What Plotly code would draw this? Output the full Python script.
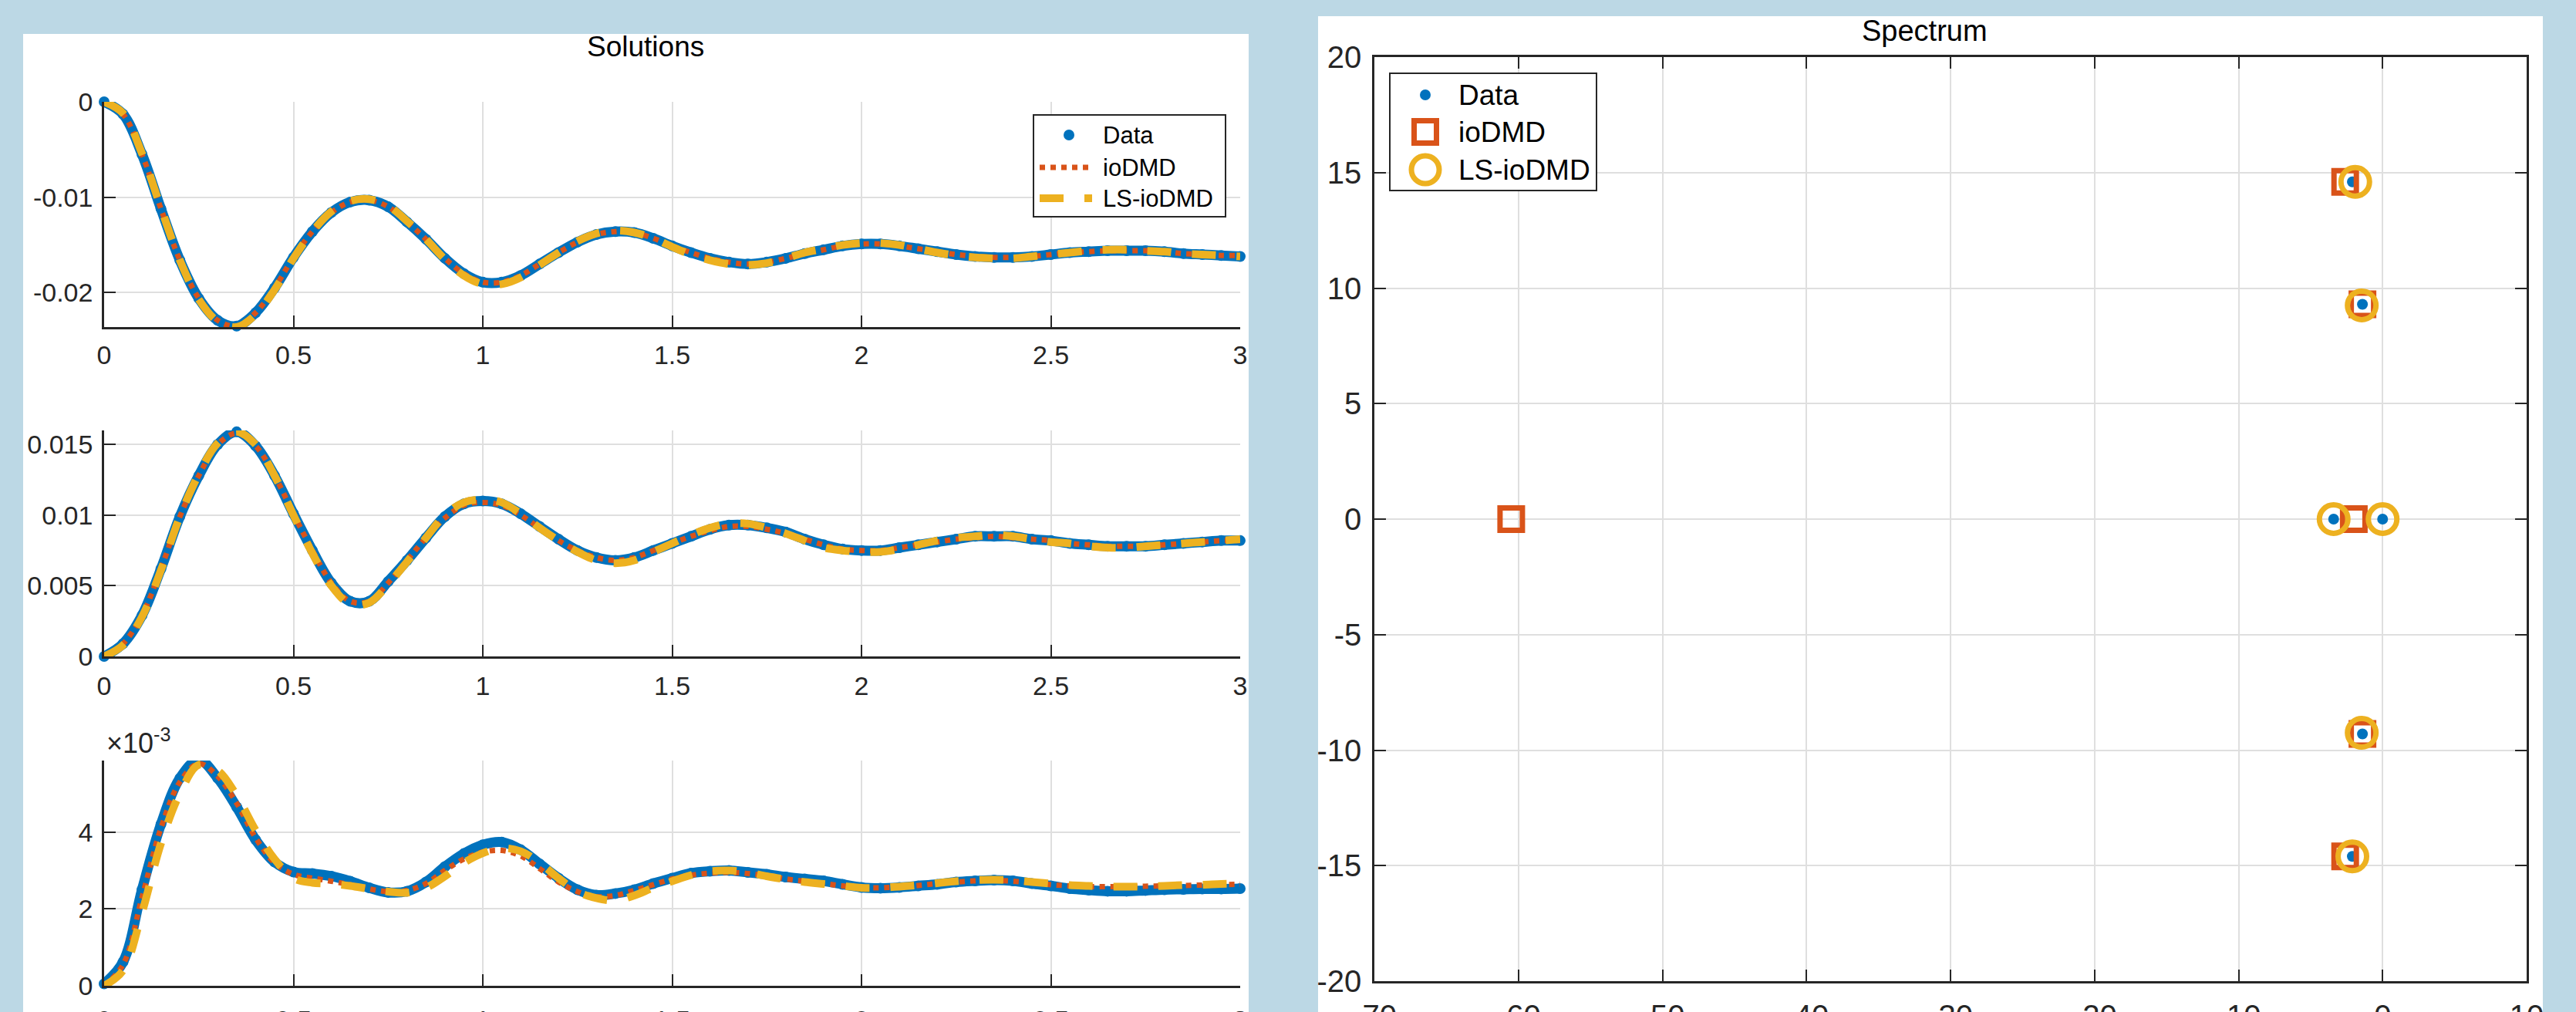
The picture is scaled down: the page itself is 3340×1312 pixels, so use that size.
import plotly.graph_objects as go

W, H = 3340, 1312
def px(x): return x / W
def py(y): return 1 - y / H

BLUE = "#0072BD"
ORANGE = "#D95319"
YELLOW = "#EDB120"
AX = "#262626"
GRID = "#DFDFDF"
BG = "#BCD8E5"
FONT = "Liberation Sans, Arial, Helvetica, sans-serif"

# ---------------- data ----------------
t = [0.0, 0.05, 0.1, 0.15, 0.2, 0.25, 0.3, 0.35, 0.4, 0.45, 0.5, 0.55, 0.6, 0.65, 0.7,
     0.75, 0.8, 0.85, 0.9, 0.95, 1.0, 1.05, 1.1, 1.15, 1.2, 1.25, 1.3, 1.35, 1.4, 1.45,
     1.5, 1.55, 1.6, 1.65, 1.7, 1.75, 1.8, 1.85, 1.9, 1.95, 2.0, 2.05, 2.1, 2.15, 2.2,
     2.25, 2.3, 2.35, 2.4, 2.45, 2.5, 2.55, 2.6, 2.65, 2.7, 2.75, 2.8, 2.85, 2.9, 2.95, 3.0]

sol1_data = [0.0, -0.0013, -0.0055, -0.0112, -0.0166, -0.0206, -0.0229, -0.0235, -0.0221, -0.0195,
             -0.0163, -0.0136, -0.0116, -0.0105, -0.0103, -0.0110, -0.0126, -0.0144, -0.0164, -0.0180,
             -0.0189, -0.0189, -0.0182, -0.0170, -0.0158, -0.0147, -0.0139, -0.0136, -0.0137, -0.0143,
             -0.0151, -0.0158, -0.0164, -0.0168, -0.0170, -0.0168, -0.0164, -0.0159, -0.0155, -0.0151,
             -0.0149, -0.0149, -0.0151, -0.0154, -0.0157, -0.0160, -0.0162, -0.0163, -0.0163, -0.0162,
             -0.0160, -0.0158, -0.0157, -0.0156, -0.0156, -0.0156, -0.0157, -0.0159, -0.0160, -0.0161,
             -0.0162]
sol1_iodmd = [0.0, -0.0013, -0.0055, -0.0112, -0.0166, -0.0206, -0.0229, -0.0235, -0.0221, -0.0195,
              -0.0163, -0.0136, -0.0116, -0.0105, -0.0103, -0.0110, -0.0126, -0.0144, -0.0164, -0.0180,
              -0.0189, -0.0189, -0.0182, -0.0170, -0.0158, -0.0147, -0.0139, -0.0136, -0.0137, -0.0143,
              -0.0151, -0.0158, -0.0164, -0.0168, -0.0170, -0.0168, -0.0164, -0.0159, -0.0155, -0.0151,
              -0.0149, -0.0149, -0.0151, -0.0154, -0.0157, -0.0160, -0.0162, -0.0163, -0.0163, -0.0162,
              -0.0160, -0.0158, -0.0157, -0.0156, -0.0156, -0.0156, -0.0157, -0.0159, -0.0160, -0.0161,
              -0.0161]
sol1_ls = [0.0, -0.0012, -0.0054, -0.0111, -0.0166, -0.0207, -0.0230, -0.0236, -0.0223, -0.0197,
           -0.0164, -0.0136, -0.0115, -0.0104, -0.0102, -0.0109, -0.0125, -0.0144, -0.0165, -0.0182,
           -0.0191, -0.0191, -0.0184, -0.0171, -0.0158, -0.0146, -0.0138, -0.0135, -0.0137, -0.0143,
           -0.0152, -0.0160, -0.0166, -0.0170, -0.0171, -0.0169, -0.0164, -0.0158, -0.0154, -0.0150,
           -0.0148, -0.0148, -0.0150, -0.0154, -0.0158, -0.0161, -0.0163, -0.0164, -0.0164, -0.0162,
           -0.0160, -0.0158, -0.0156, -0.0155, -0.0155, -0.0156, -0.0157, -0.0159, -0.0160, -0.0161,
           -0.0162]

sol2_data = [0.0, 0.0009, 0.0029, 0.0062, 0.0099, 0.0128, 0.0150, 0.0159, 0.0149, 0.0128,
             0.0101, 0.0075, 0.0052, 0.0039, 0.0039, 0.0053, 0.0068, 0.0084, 0.0099, 0.0108,
             0.0110, 0.0108, 0.0101, 0.0092, 0.0083, 0.0075, 0.0070, 0.0068, 0.0070, 0.0075,
             0.0080, 0.0085, 0.0090, 0.0093, 0.0093, 0.0091, 0.0088, 0.0083, 0.0079, 0.0076,
             0.0075, 0.0075, 0.0077, 0.0079, 0.0081, 0.0083, 0.0085, 0.0085, 0.0085, 0.0083,
             0.0082, 0.0080, 0.0079, 0.0078, 0.0078, 0.0078, 0.0079, 0.0080, 0.0081, 0.0082,
             0.0082]
sol2_iodmd = [0.0, 0.0009, 0.0029, 0.0062, 0.0099, 0.0128, 0.0150, 0.0158, 0.0149, 0.0128,
              0.0101, 0.0075, 0.0052, 0.0039, 0.0039, 0.0052, 0.0068, 0.0084, 0.0098, 0.0107,
              0.0109, 0.0107, 0.0100, 0.0091, 0.0082, 0.0075, 0.0070, 0.0068, 0.0070, 0.0075,
              0.0080, 0.0085, 0.0089, 0.0092, 0.0092, 0.0090, 0.0087, 0.0083, 0.0079, 0.0076,
              0.0075, 0.0075, 0.0077, 0.0079, 0.0081, 0.0083, 0.0084, 0.0085, 0.0084, 0.0083,
              0.0082, 0.0080, 0.0079, 0.0078, 0.0078, 0.0078, 0.0079, 0.0080, 0.0081, 0.0082,
              0.0082]
sol2_ls = [0.0, 0.0008, 0.0028, 0.0061, 0.0099, 0.0129, 0.0151, 0.0159, 0.0150, 0.0128,
           0.0100, 0.0073, 0.0050, 0.0037, 0.0038, 0.0051, 0.0067, 0.0084, 0.0100, 0.0109,
           0.0111, 0.0109, 0.0101, 0.0091, 0.0082, 0.0074, 0.0068, 0.0066, 0.0068, 0.0074,
           0.0080, 0.0086, 0.0091, 0.0094, 0.0094, 0.0091, 0.0087, 0.0082, 0.0077, 0.0075,
           0.0074, 0.0074, 0.0076, 0.0079, 0.0082, 0.0084, 0.0085, 0.0086, 0.0085, 0.0083,
           0.0081, 0.0080, 0.0078, 0.0077, 0.0077, 0.0078, 0.0079, 0.0080, 0.0081, 0.0082,
           0.0083]

# third output, in units of 1e-3
sol3_data = [0.05, 0.62, 2.50, 4.20, 5.40, 5.88, 5.40, 4.65, 3.80, 3.22,
             2.96, 2.92, 2.85, 2.72, 2.55, 2.43, 2.46, 2.70, 3.10, 3.44,
             3.67, 3.74, 3.54, 3.17, 2.80, 2.50, 2.36, 2.40, 2.50, 2.66,
             2.80, 2.93, 2.98, 3.00, 2.95, 2.90, 2.83, 2.78, 2.73, 2.64,
             2.56, 2.54, 2.56, 2.60, 2.64, 2.70, 2.73, 2.75, 2.73, 2.66,
             2.60, 2.53, 2.49, 2.46, 2.46, 2.48, 2.50, 2.51, 2.52, 2.52,
             2.53]
sol3_iodmd = [0.0, 0.55, 2.30, 4.10, 5.30, 5.78, 5.45, 4.75, 3.85, 3.20,
              2.90, 2.80, 2.72, 2.63, 2.52, 2.45, 2.48, 2.66, 3.00, 3.30,
              3.48, 3.52, 3.38, 3.05, 2.70, 2.45, 2.32, 2.35, 2.48, 2.63,
              2.78, 2.88, 2.93, 2.95, 2.92, 2.86, 2.78, 2.72, 2.66, 2.60,
              2.56, 2.55, 2.57, 2.61, 2.66, 2.70, 2.73, 2.74, 2.72, 2.68,
              2.63, 2.60, 2.58, 2.58, 2.58, 2.59, 2.60, 2.61, 2.62, 2.63,
              2.64]
sol3_ls = [0.0, 0.40, 1.90, 3.70, 5.00, 5.75, 5.60, 4.95, 4.05, 3.30,
           2.80, 2.68, 2.65, 2.60, 2.52, 2.45, 2.42, 2.55, 2.85, 3.20,
           3.45, 3.58, 3.50, 3.20, 2.80, 2.45, 2.28, 2.22, 2.35, 2.55,
           2.72, 2.88, 2.98, 3.00, 2.95, 2.85, 2.77, 2.70, 2.65, 2.60,
           2.55, 2.55, 2.58, 2.62, 2.67, 2.72, 2.75, 2.76, 2.74, 2.70,
           2.66, 2.62, 2.60, 2.58, 2.58, 2.58, 2.60, 2.62, 2.63, 2.65,
           2.66]

spec_data_re = [-2.1, -1.4, -3.4, 0.0, -1.4, -2.1]
spec_data_im = [14.6, 9.3, 0.0, 0.0, -9.3, -14.6]
spec_io_re = [-2.6, -1.4, -2.0, -60.5, -1.4, -2.6]
spec_io_im = [14.6, 9.3, 0.0, 0.0, -9.3, -14.6]
spec_ls_re = [-1.9, -1.45, -3.4, 0.0, -1.45, -2.1]
spec_ls_im = [14.6, 9.25, 0.0, 0.0, -9.25, -14.6]

t_ticks = [0, 0.5, 1, 1.5, 2, 2.5, 3]
t_ticktext = ["0", "0.5", "1", "1.5", "2", "2.5", "3"]
y1_ticks = [-0.02, -0.01, 0]
y1_ticktext = ["-0.02", "-0.01", "0"]
y2_ticks = [0, 0.005, 0.01, 0.015]
y2_ticktext = ["0", "0.005", "0.01", "0.015"]
y3_ticks = [0, 2, 4]
y3_ticktext = ["0", "2", "4"]
sx_ticks = [-70, -60, -50, -40, -30, -20, -10, 0, 10]
sx_ticktext = ["-70", "-60", "-50", "-40", "-30", "-20", "-10", "0", "10"]
sy_ticks = [-20, -15, -10, -5, 0, 5, 10, 15, 20]
sy_ticktext = ["-20", "-15", "-10", "-5", "0", "5", "10", "15", "20"]

# ---------------- figure ----------------
fig = go.Figure()

def add_solution(xa, ya, d, io, ls):
    fig.add_trace(go.Scatter(x=t, y=d, name="Data", mode="lines+markers",
                             line=dict(color=BLUE, width=13, shape="spline"),
                             marker=dict(size=14, color=BLUE),
                             xaxis=xa, yaxis=ya, cliponaxis=False, showlegend=False))
    fig.add_trace(go.Scatter(x=t, y=io, name="ioDMD", mode="lines",
                             line=dict(color=ORANGE, width=7, dash="dot", shape="spline"),
                             xaxis=xa, yaxis=ya, cliponaxis=False, showlegend=False))
    fig.add_trace(go.Scatter(x=t, y=ls, name="LS-ioDMD", mode="lines",
                             line=dict(color=YELLOW, width=10, dash="31px,27px", shape="spline"),
                             xaxis=xa, yaxis=ya, cliponaxis=False, showlegend=False))

add_solution("x", "y", sol1_data, sol1_iodmd, sol1_ls)
add_solution("x2", "y2", sol2_data, sol2_iodmd, sol2_ls)
add_solution("x3", "y3", sol3_data, sol3_iodmd, sol3_ls)

fig.add_trace(go.Scatter(x=spec_data_re, y=spec_data_im, name="Data", mode="markers",
                         marker=dict(size=14, color=BLUE), xaxis="x4", yaxis="y4",
                         cliponaxis=False, showlegend=False))
fig.add_trace(go.Scatter(x=spec_io_re, y=spec_io_im, name="ioDMD", mode="markers",
                         marker=dict(size=29, symbol="square-open", color=ORANGE,
                                     line=dict(color=ORANGE, width=7)),
                         xaxis="x4", yaxis="y4", cliponaxis=False, showlegend=False))
fig.add_trace(go.Scatter(x=spec_ls_re, y=spec_ls_im, name="LS-ioDMD", mode="markers",
                         marker=dict(size=37, symbol="circle-open", color=YELLOW,
                                     line=dict(color=YELLOW, width=7)),
                         xaxis="x4", yaxis="y4", cliponaxis=False, showlegend=False))

SOL_TICK = 34
SPEC_TICK = 40

def axis(dom, anchor, rng, tv, tt, size, mirror, standoff):
    return dict(domain=dom, anchor=anchor, range=rng, tickmode="array", tickvals=tv, ticktext=tt,
                ticks="inside", ticklen=15, tickwidth=2, tickcolor=AX,
                showline=True, linecolor=AX, linewidth=2.5, mirror=("ticks" if mirror else False),
                showgrid=True, gridcolor=GRID, gridwidth=2, zeroline=False, automargin=False,
                tickfont=dict(size=size, color=AX, family=FONT), ticklabelstandoff=standoff,
                fixedrange=True)

XL, XR = 135, 1608
layout = dict(
    width=W, height=H, autosize=False,
    margin=dict(l=0, r=0, t=0, b=0, pad=0),
    paper_bgcolor=BG, plot_bgcolor="white",
    font=dict(family=FONT, color=AX),
    showlegend=False,
    xaxis=axis([px(XL), px(XR)], "y", [0, 3], t_ticks, t_ticktext, SOL_TICK, False, 4),
    yaxis=axis([py(424), py(132)], "x", [-0.0236, 0.0], y1_ticks, y1_ticktext, SOL_TICK, False, 5),
    xaxis2=axis([px(XL), px(XR)], "y2", [0, 3], t_ticks, t_ticktext, SOL_TICK, False, 6),
    yaxis2=axis([py(851), py(558)], "x2", [0, 0.016], y2_ticks, y2_ticktext, SOL_TICK, False, 5),
    xaxis3=axis([px(XL), px(XR)], "y3", [0, 3], t_ticks, t_ticktext, SOL_TICK, False, 12),
    yaxis3=axis([py(1278), py(986)], "x3", [0, 5.86], y3_ticks, y3_ticktext, SOL_TICK, False, 5),
    xaxis4=axis([px(1782), px(3276)], "y4", [-70, 10], sx_ticks, sx_ticktext, SPEC_TICK, True, 8),
    yaxis4=axis([py(1272), py(74)], "x4", [-20, 20], sy_ticks, sy_ticktext, SPEC_TICK, True, 6),
)
fig.update_layout(**layout)

shapes = []
# white panels
shapes.append(dict(type="rect", xref="paper", yref="paper", x0=px(30), x1=px(1619), y0=py(1312), y1=py(44),
                   fillcolor="white", line=dict(width=0), layer="below"))
shapes.append(dict(type="rect", xref="paper", yref="paper", x0=px(1709), x1=px(3297), y0=py(1312), y1=py(21),
                   fillcolor="white", line=dict(width=0), layer="below"))

# legend for Solutions
shapes.append(dict(type="rect", xref="paper", yref="paper", x0=px(1340), x1=px(1589), y0=py(281), y1=py(149),
                   fillcolor="white", line=dict(color=AX, width=2), layer="above"))
shapes.append(dict(type="circle", xref="paper", yref="paper", x0=px(1386 - 7), x1=px(1386 + 7),
                   y0=py(175 + 7), y1=py(175 - 7), fillcolor=BLUE, line=dict(width=0), layer="above"))
shapes.append(dict(type="line", xref="paper", yref="paper", x0=px(1348), x1=px(1416), y0=py(217), y1=py(217),
                   line=dict(color=ORANGE, width=7, dash="dot"), layer="above"))
shapes.append(dict(type="line", xref="paper", yref="paper", x0=px(1348), x1=px(1416), y0=py(257), y1=py(257),
                   line=dict(color=YELLOW, width=10, dash="31px,27px"), layer="above"))

# legend for Spectrum
shapes.append(dict(type="rect", xref="paper", yref="paper", x0=px(1802), x1=px(2070), y0=py(247), y1=py(95),
                   fillcolor="white", line=dict(color=AX, width=2), layer="above"))
shapes.append(dict(type="circle", xref="paper", yref="paper", x0=px(1848 - 7), x1=px(1848 + 7),
                   y0=py(123 + 7), y1=py(123 - 7), fillcolor=BLUE, line=dict(width=0), layer="above"))
shapes.append(dict(type="rect", xref="paper", yref="paper", x0=px(1848 - 14.5), x1=px(1848 + 14.5),
                   y0=py(171 + 14.5), y1=py(171 - 14.5), fillcolor="rgba(0,0,0,0)",
                   line=dict(color=ORANGE, width=7), layer="above"))
shapes.append(dict(type="circle", xref="paper", yref="paper", x0=px(1848 - 18), x1=px(1848 + 18),
                   y0=py(220 + 18), y1=py(220 - 18), fillcolor="rgba(0,0,0,0)",
                   line=dict(color=YELLOW, width=7), layer="above"))

annotations = []
def ann(text, x, y, size, xanchor="left", yanchor="middle", color="black"):
    annotations.append(dict(text=text, x=px(x), y=py(y), xref="paper", yref="paper", showarrow=False,
                            xanchor=xanchor, yanchor=yanchor, font=dict(size=size, color=color, family=FONT)))

ann("Data", 1428, 175, 31)
ann("ioDMD", 1428, 217, 31)
ann("LS-ioDMD", 1428, 257, 31)
ann("Data", 1889, 123, 37)
ann("ioDMD", 1889, 171, 37)
ann("LS-ioDMD", 1889, 220, 37)
ann("Solutions", 837, 60, 37, xanchor="center")
ann("Spectrum", 2495, 40, 38, xanchor="center")
ann("×10<sup>-3</sup>", 136, 986, 36, yanchor="bottom", color=AX)

fig.update_layout(shapes=shapes, annotations=annotations)
# remove the browser's default 8px page margin so the figure sits at the window origin
fig.write_html("out.html", config={"displayModeBar": False},
               post_script="document.body.style.margin='0';document.body.style.overflow='hidden';")
